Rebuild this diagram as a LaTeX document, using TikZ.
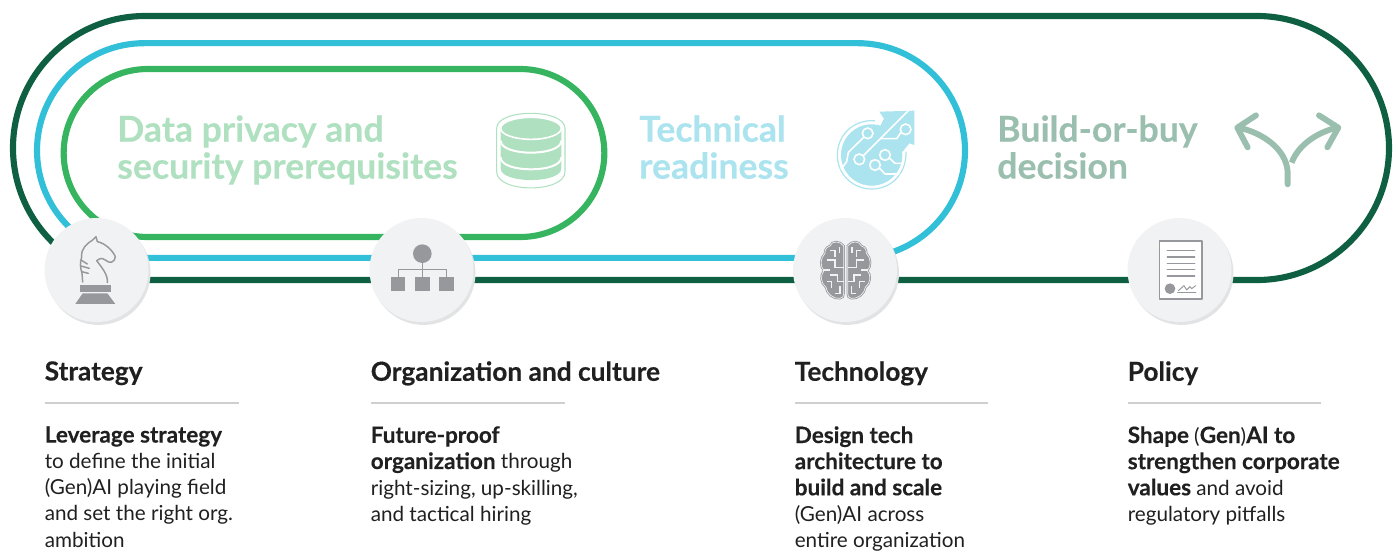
\documentclass[tikz,border=0pt]{standalone}
\usepackage{fontspec}
\setmainfont{Lato}[BoldFeatures={FakeBold=0.3}]
\usepackage{xcolor}
\usetikzlibrary{shapes, shadows}
\definecolor{ringdark}{HTML}{0F6042}
\definecolor{ringblue}{HTML}{32BFD8}
\definecolor{ringgreen}{HTML}{36B45F}
\definecolor{paledark}{HTML}{9BBFAE}
\definecolor{paleblue}{HTML}{ABE3EE}
\definecolor{palegreen}{HTML}{AFE0C0}
\definecolor{badgefill}{HTML}{F1F2F4}
\definecolor{badgeshade}{HTML}{E2E3E4}
\definecolor{icongray}{HTML}{97989C}
\definecolor{rulegray}{HTML}{CFCFCF}
\definecolor{inkblack}{HTML}{202020}
\newcommand{\bt}[1]{{\fontsize{16.9}{19.6}\selectfont\bfseries #1}}

\begin{document}
\begin{tikzpicture}[x=0.75pt, y=-0.75pt]
\tikzstyle{ring}=[rounded rectangle, line width=4.6pt, fill=none, inner sep=0pt]
\tikzstyle{badge}=[circle, draw=none, fill=badgefill, minimum size=78pt, inner sep=0pt, copy shadow={shadow xshift=1.5pt, shadow yshift=-2.2pt, fill=badgeshade, draw=none}]
\tikzstyle{bigtext}=[anchor=north west, inner sep=0pt, align=left, font=\fontsize{26.7}{27.7}\selectfont\bfseries]
\tikzstyle{headtext}=[anchor=north west, inner sep=0pt, text=inkblack, font=\fontsize{19.7}{22}\selectfont\bfseries]
\tikzstyle{bodytext}=[anchor=north west, inner sep=0pt, align=left, text=inkblack, font=\fontsize{15.5}{19.6}\selectfont]
\tikzstyle{rulel}=[draw=rulegray, line width=1.5pt]
\tikzstyle{iconl}=[draw=icongray, line width=1.1pt, fill=none, line cap=round, line join=round]
\tikzstyle{trace}=[draw=badgefill, line width=0.8pt, fill=none]
\tikzstyle{wirel}=[draw=white, line width=1.2pt, fill=none]
\tikzstyle{wirec}=[draw=white, line width=1.2pt, fill=paleblue]
\tikzstyle{forkl}=[draw=paledark, line width=4.4pt, fill=none, line cap=round, line join=round]
\useasboundingbox (0,0) rectangle (1400,551);

\node (ringd) at (701,148) [ring, draw=ringdark, minimum width=1032pt, minimum height=198pt] {};
\node (ringb) at (501,150.5) [ring, draw=ringblue, minimum width=696pt, minimum height=161pt] {};
\node (ringg) at (334,153) [ring, draw=ringgreen, minimum width=405.5pt, minimum height=126pt] {};

\node (strategy) at (96.5,270) [badge] {};
\node (org) at (421.5,270) [badge] {};
\node (tech) at (845,270) [badge] {};
\node (policy) at (1179.5,270) [badge] {};

%% big labels
\node (privacy) at (117,115) [bigtext, text=palegreen] {Data privacy and\\security prerequisites};
\node (readiness) at (639,115) [bigtext, text=paleblue] {Technical\\readiness};
\node (decision) at (997,115) [bigtext, text=paledark] {Build-or-buy\\decision};

%% database
\begin{scope}[shift={(480,100)}, scale=0.3333]
\draw [draw=palegreen, line width=0.8pt] (50,85) .. controls (50,25) and (255,25) .. (255,85) -- (255,215) .. controls (255,280) and (50,280) .. (50,215) -- cycle;
\fill [palegreen] (62,85) -- (62,205) .. controls (62,252) and (244,252) .. (244,205) -- (244,85) -- cycle;
\draw [draw=white, line width=1.5pt] (62,122) .. controls (62,170) and (244,170) .. (244,122);
\draw [draw=white, line width=1.5pt] (62,172) .. controls (62,220) and (244,220) .. (244,172);
\draw [draw=white, line width=1.2pt, fill=palegreen] (153,85) ellipse [x radius=91, y radius=33];
\end{scope}

%% circuit arrow
\begin{scope}[shift={(780,90)}, scale=0.3333]
\draw [draw=paleblue, line width=0.9pt] (285,92) .. controls (215,88) and (172,140) .. (172,195) .. controls (172,255) and (220,297) .. (275,297) .. controls (335,297) and (380,250) .. (378,185);
\fill [paleblue] (275,195) circle (92);
\fill [paleblue] (298,65) -- (403,62) -- (403,165) -- (388,160) -- (368,185) -- (300,110) -- (312,86) -- cycle;
\draw [wirel] (385,62) -- (250,197);
\draw [wirel] (252,141) -- (205,187) -- (200,215) -- (183,238);
\draw [wirel] (364,126) -- (350,146) -- (300,146);
\draw [wirel] (328,204) -- (345,220) -- (368,220);
\draw [wirel] (298,234) -- (315,252) -- (358,252);
\draw [wirec] (263,130) circle (16);
\draw [wirec] (377,118) circle (16);
\draw [wirec] (238,208) circle (16);
\draw [wirec] (315,195) circle (16);
\draw [wirec] (285,225) circle (16);
\end{scope}

%% fork arrow, policy document
\begin{scope}[shift={(1110,90)}, scale=0.3333]
\draw [forkl] (533,283) -- (533,245) .. controls (528,175) and (455,128) .. (387,113);
\draw [forkl] (438,76) -- (382,113) -- (413,172);
\draw [forkl, line cap=butt] (545,218) .. controls (565,165) and (620,128) .. (680,113);
\draw [forkl] (627,76) -- (685,113) -- (652,172);
\draw [iconl, fill=white] (148,453) rectangle (276,627);
\foreach \yl in {482,501,520,539,558}
	\draw [iconl] (172,\yl) -- (254,\yl);
\fill [icongray] (180,596) circle (16);
\draw [iconl, line width=0.7pt] (203,606) -- (258,606);
\draw [iconl, line width=0.7pt] (205,602) -- (222,587) -- (230,600) -- (240,590) -- (245,596) -- (257,587);
\end{scope}

%% knight
\begin{scope}[shift={(0,180)}, scale=0.3333]
\fill [icongray] (240,315) rectangle (332,335);
\fill [icongray] (226,372) -- (346,372) -- (322,340) -- (248,340) -- cycle;
\draw [iconl] (248,306) -- (246,280) .. controls (240,262) and (240,245) .. (245,232) .. controls (242,205) and (262,190) .. (278,180) -- (288,170) -- (292,185) .. controls (318,190) and (340,215) .. (346,230) .. controls (345,248) and (328,252) .. (316,240) .. controls (305,232) and (295,236) .. (290,242) .. controls (305,262) and (325,285) .. (322,308);
\draw [iconl] (243,240) -- (262,252);
\draw [iconl] (243,258) -- (268,265);
\draw [iconl] (245,275) -- (265,280);
\end{scope}

%% org chart
\begin{scope}[shift={(350,200)}, scale=0.3333]
\fill [icongray] (217,161) circle (28);
\draw [iconl] (217,189) -- (217,231);
\draw [iconl] (145,231) -- (145,209) -- (289,209) -- (289,231);
\fill [icongray] (124,231) rectangle (166,274);
\fill [icongray] (196,231) rectangle (239,274);
\fill [icongray] (268,231) rectangle (311,274);
\end{scope}

%% brain
\begin{scope}[shift={(780,210)}, scale=0.3333]
\foreach \sx/\xo in {1/0, -1/394} {
\begin{scope}[shift={(\xo,0)}, xscale=\sx]
\draw [draw=icongray, double=badgefill, double distance=0.5pt, line width=0.6pt, fill=icongray] (191,108) .. controls (180,92) and (155,92) .. (150,108) .. controls (135,112) and (135,125) .. (135,130) .. controls (120,145) and (120,170) .. (132,182) .. controls (120,195) and (122,220) .. (138,232) .. controls (140,250) and (160,268) .. (180,265) .. controls (188,265) and (191,258) .. (191,250) -- cycle;
\draw [trace] (178,112) -- (178,130);
\draw [trace] (150,122) -- (165,122) -- (165,140);
\draw [trace] (142,150) -- (165,150) -- (165,172) -- (191,172);
\draw [trace] (130,180) -- (150,180);
\draw [trace] (150,195) -- (172,195) -- (172,215) -- (191,215);
\draw [trace] (140,215) -- (155,215) -- (155,235);
\draw [trace] (180,228) -- (180,250) -- (165,250);
\end{scope}
}
\end{scope}

%% titles
\node (stratt) at (44.5,361) [headtext] {Strategy};
\node (orgt) at (370.5,361) [headtext] {Organization and culture};
\node (techt) at (794.5,361) [headtext] {Technology};
\node (polt) at (1127.5,361) [headtext] {Policy};

\draw [rulel] (45,403) -- (239,403);
\draw [rulel] (371,403) -- (565,403);
\draw [rulel] (795,403) -- (988,403);
\draw [rulel] (1128,403) -- (1321,403);

\node (stratx) at (44.5,426) [bodytext] {\bt{Leverage strategy}\\to define the initial\\(Gen)AI playing field\\and set the right org.\\ambition};
\node (orgx) at (370.5,426) [bodytext] {\bt{Future-proof}\\\bt{organization} through\\right-sizing, up-skilling,\\and tactical hiring};
\node (techx) at (794.5,426) [bodytext] {\bt{Design tech}\\\bt{architecture to}\\\bt{build and scale}\\(Gen)AI across\\entire organization};
\node (polx) at (1127.5,426) [bodytext] {\bt{Shape} (\bt{Gen})\bt{AI to}\\\bt{strengthen corporate}\\\bt{values} and avoid\\regulatory pitfalls};
\end{tikzpicture}
\end{document}
